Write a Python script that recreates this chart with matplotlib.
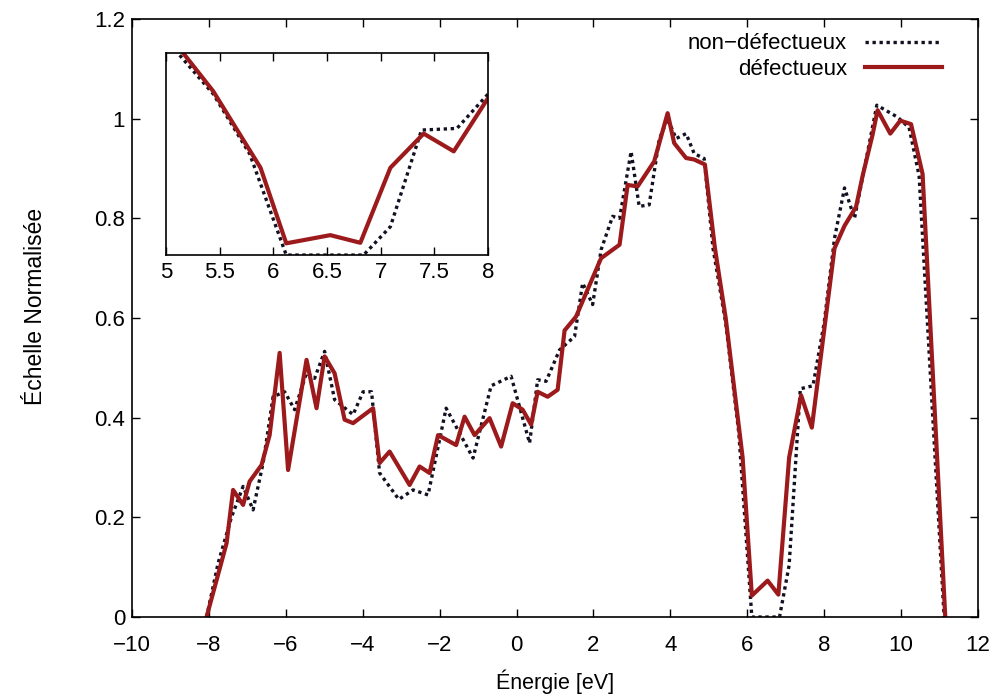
import matplotlib
matplotlib.use("Agg")
import matplotlib.pyplot as plt
from matplotlib.ticker import FuncFormatter

plt.rcParams['font.family'] = ['Liberation Sans', 'DejaVu Sans']

# non-défectueux (black dotted)
e_ref = [-8.06, -7.76, -7.41, -7.11, -6.85, -6.59, -6.33, -6.03, -5.77, -5.46,
         -5.25, -4.99, -4.73, -4.25, -3.99, -3.77, -3.56, -3.06, -2.69, -2.30,
         -1.83, -1.13, -0.66, -0.14, 0.34, 0.55, 0.77, 1.12, 1.51, 1.72,
         1.98, 2.20, 2.50, 2.68, 2.98, 3.19, 3.45, 3.71, 3.93, 4.15,
         4.41, 4.62, 4.88, 5.11, 5.44, 5.78, 6.12, 6.84, 7.09, 7.38,
         7.71, 8.00, 8.27, 8.53, 8.79, 9.37, 9.91, 10.21, 10.47, 11.12]
y_ref = [0.0, 0.108, 0.201, 0.262, 0.215, 0.309, 0.442, 0.452, 0.416, 0.49,
         0.479, 0.533, 0.436, 0.406, 0.452, 0.452, 0.289, 0.236, 0.255, 0.245,
         0.419, 0.319, 0.464, 0.483, 0.349, 0.476, 0.473, 0.536, 0.563, 0.67,
         0.627, 0.737, 0.804, 0.80, 0.934, 0.824, 0.827, 0.958, 1.0, 0.96,
         0.97, 0.93, 0.92, 0.74, 0.59, 0.37, 0.0, 0.0, 0.104, 0.458,
         0.464, 0.59, 0.76, 0.861, 0.80, 1.027, 1.003, 0.982, 0.885, 0.0]

# défectueux (red solid)
e_def = [-8.06, -7.54, -7.37, -7.11, -6.94, -6.63, -6.42, -6.16, -5.94, -5.46,
         -5.20, -4.99, -4.73, -4.47, -4.25, -3.73, -3.56, -3.30, -2.78, -2.52,
         -2.26, -2.04, -1.57, -1.35, -1.09, -0.70, -0.40, -0.10, 0.16, 0.38,
         0.55, 0.81, 1.07, 1.25, 1.55, 1.81, 2.20, 2.68, 2.89, 3.15,
         3.58, 3.93, 4.10, 4.41, 4.62, 4.90, 5.16, 5.44, 5.88, 6.12,
         6.53, 6.81, 7.09, 7.40, 7.68, 8.27, 8.53, 8.83, 9.00, 9.26,
         9.39, 9.72, 9.98, 10.26, 10.56, 11.15]
y_def = [0.0, 0.148, 0.255, 0.225, 0.272, 0.305, 0.365, 0.53, 0.295, 0.516,
         0.419, 0.523, 0.489, 0.396, 0.389, 0.419, 0.309, 0.332, 0.265, 0.302,
         0.289, 0.365, 0.345, 0.402, 0.365, 0.399, 0.342, 0.429, 0.416, 0.386,
         0.452, 0.442, 0.456, 0.575, 0.603, 0.65, 0.72, 0.747, 0.867, 0.864,
         0.914, 1.011, 0.951, 0.921, 0.918, 0.908, 0.74, 0.60, 0.32, 0.043,
         0.073, 0.045, 0.32, 0.445, 0.38, 0.74, 0.785, 0.823, 0.885, 0.968,
         1.017, 0.970, 0.996, 0.989, 0.889, 0.0]

x_ticks = [-10, -8, -6, -4, -2, 0, 2, 4, 6, 8, 10, 12]
y_ticks = [0, 0.2, 0.4, 0.6, 0.8, 1.0, 1.2]
inset_ticks = [5, 5.5, 6, 6.5, 7, 7.5, 8]

red = '#9c1a1c'
fmt = FuncFormatter(lambda v, p: ('%g' % v).replace('-', '\u2212'))

fig = plt.figure(figsize=(10.02, 6.95), dpi=100)
ax = fig.add_axes([0.1317, 0.1122, 0.8443, 0.8605])

ax.plot(e_ref, y_ref, color='#111122', lw=2.4, linestyle=(0, (1, 1.1)),
        label='non\u2212défectueux')
ax.plot(e_def, y_def, color=red, lw=3, label='défectueux')
ax.set_xlim(-10, 12)
ax.set_ylim(0, 1.2)
ax.set_xticks(x_ticks)
ax.set_yticks(y_ticks)
ax.xaxis.set_major_formatter(fmt)
ax.yaxis.set_major_formatter(fmt)
ax.tick_params(direction='in', top=True, right=True, length=6, width=1,
               labelsize=16)
ax.tick_params(axis='x', pad=13)
ax.tick_params(axis='y', pad=5)
ax.set_xlabel('Énergie [eV]', fontsize=15.5, labelpad=10)
ax.set_ylabel('Échelle Normalisée', fontsize=16.5)
ax.yaxis.set_label_coords(-0.1, 0.52)
for s in ax.spines.values():
    s.set_linewidth(1.2)

leg = ax.legend(loc='upper right', frameon=False, markerfirst=False, fontsize=16,
                handlelength=3.5, labelspacing=0.2, borderaxespad=0.25,
                bbox_to_anchor=(0.975, 1.0))

# inset zoom on the gap
ins = fig.add_axes([0.1657, 0.633, 0.3214, 0.2906])
ins.plot(e_ref, y_ref, color='#111122', lw=2.4, linestyle=(0, (1, 1.1)))
ins.plot(e_def, y_def, color=red, lw=3)
ins.set_xlim(5, 8)
ins.set_ylim(0, 0.74)
ins.set_xticks(inset_ticks)
ins.xaxis.set_major_formatter(fmt)
ins.set_yticks([])
ins.tick_params(direction='in', top=True, length=6, width=1, labelsize=16, pad=5)
for s in ins.spines.values():
    s.set_linewidth(1.2)

fig.savefig('out.png', dpi=100)
